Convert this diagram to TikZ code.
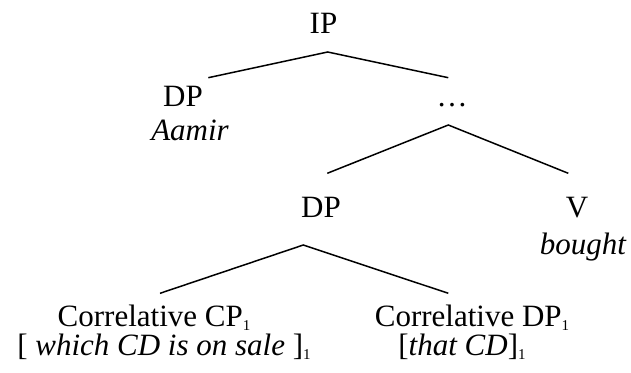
\documentclass[tikz,border=0pt]{standalone}
\usepackage{fontspec}
\setmainfont{Liberation Serif}
\newcommand{\idx}{\raisebox{-4pt}{\fontsize{15}{15}\selectfont\upshape 1}}
\begin{document}
\begin{tikzpicture}[x=1pt,y=-1pt,
  lab/.style={anchor=base,inner sep=0pt,font=\fontsize{31}{31}\selectfont},
  branch/.style={line width=1.5pt}]
\useasboundingbox (0,0) rectangle (631,372);
% labels
\node[lab] (ip) at (323.5,33) {IP};
\node[lab] (dp1) at (183,106) {DP};
\node[lab] (aamir) at (190,140) {\itshape Aamir};
\node[lab] (dots) at (452,106) {\dots};
\node[lab] (dp2) at (321,217) {DP};
\node[lab] (v) at (577,217) {V};
\node[lab] (bought) at (583,254) {\itshape bought};
\node[lab] (ccp) at (154,326) {Correlative CP\idx};
\node[lab] (ccpx) at (164,355) {[ \itshape which CD is on sale \upshape]\idx};
\node[lab] (cdp) at (472,326) {Correlative DP\idx};
\node[lab] (cdpx) at (462,355) {[\itshape that CD\upshape]\idx};
% branch points
\coordinate (a1) at (327.7,52);
\coordinate (l1) at (208.3,77.7);
\coordinate (r1) at (448.3,77.7);
\coordinate (a2) at (448.3,125);
\coordinate (l2) at (327.3,173.3);
\coordinate (r2) at (568.3,173.3);
\coordinate (a3) at (303.3,245);
\coordinate (l3) at (160,293.3);
\coordinate (r3) at (448.3,293.3);
\draw[branch] (l1) -- (a1) -- (r1);
\draw[branch] (l2) -- (a2) -- (r2);
\draw[branch] (l3) -- (a3) -- (r3);
\end{tikzpicture}
\end{document}
